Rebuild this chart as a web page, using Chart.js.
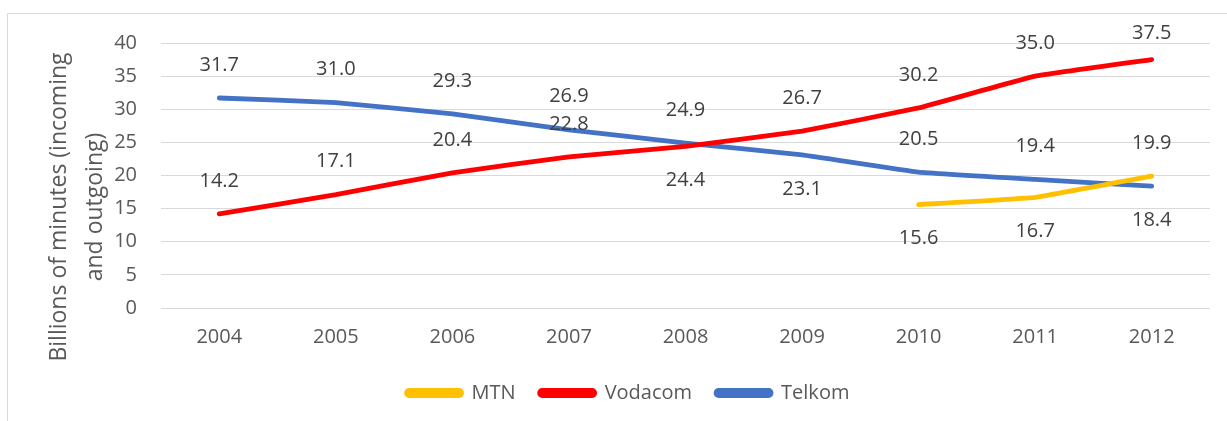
<!DOCTYPE html>
<html><head><meta charset="utf-8">
<script src="https://cdn.jsdelivr.net/npm/chart.js@4"></script>
<style>html,body{margin:0;padding:0;background:#fff;overflow:hidden}
#wrap{position:relative;width:1227px;height:421px}
canvas{display:block}
</style></head><body><div id="wrap"><canvas id="c" width="1227" height="421"></canvas></div>
<script>
// ---- data ----
const years = ['2004','2005','2006','2007','2008','2009','2010','2011','2012'];
const seriesNames = ['MTN','Vodacom','Telkom'];
const mtn     = [null, null, null, null, null, null, 15.6, 16.7, 19.9];
const vodacom = [14.2, 17.1, 20.4, 22.8, 24.4, 26.7, 30.2, 35.0, 37.5];
const telkom  = [31.7, 31.0, 29.3, 26.9, 24.9, 23.1, 20.5, 19.4, 18.4];
const yMin = 0, yMax = 40, yStep = 5;
const yTitleLines = ['Billions of minutes (incoming', 'and outgoing)'];
// which side of the point each data label sits on
const mtnLabelSide     = ['', '', '', '', '', '', 'below', 'below', 'above'];
const vodacomLabelSide = ['above','above','above','above','below','above','above','above','above'];
const telkomLabelSide  = ['above','above','above','above','above','below','above','above','below'];

// ---- style ----
const FONT = '"Open Sans", "Noto Sans", sans-serif';
const FS = 20;
const TITLE_FS = 23;
const colors = ['#FFC000', '#FF0000', '#4472C4'];

const frame = {
  id: 'frame',
  beforeDraw(chart) {
    const c = chart.ctx;
    c.save();
    c.fillStyle = '#fff';
    c.fillRect(0, 0, chart.width, chart.height);
    c.strokeStyle = '#d9d9d9';
    c.lineWidth = 1;
    c.beginPath();
    c.moveTo(7.5, chart.height);
    c.lineTo(7.5, 13.5);
    c.lineTo(chart.width, 13.5);
    c.stroke();
    c.restore();
  }
};

const yTitle = {
  id: 'yTitle',
  afterDraw(chart) {
    const c = chart.ctx;
    const a = chart.chartArea;
    c.save();
    c.fillStyle = '#595959';
    c.font = TITLE_FS + 'px ' + FONT;
    c.textAlign = 'center';
    c.textBaseline = 'middle';
    const cy = a.bottom - 101;
    const xs = [59, 95];
    yTitleLines.forEach((t, i) => {
      c.save();
      c.translate(xs[i], cy);
      c.rotate(-Math.PI / 2);
      c.fillText(t, 0, 0);
      c.restore();
    });
    c.restore();
  }
};

const sides = [mtnLabelSide, vodacomLabelSide, telkomLabelSide];
const dataLabels = {
  id: 'dataLabels',
  afterDatasetsDraw(chart) {
    const c = chart.ctx;
    const a = chart.chartArea;
    c.save();
    c.fillStyle = '#404040';
    c.font = FS + 'px ' + FONT;
    c.textAlign = 'center';
    c.textBaseline = 'middle';
    chart.data.datasets.forEach((ds, di) => {
      const meta = chart.getDatasetMeta(di);
      meta.data.forEach((pt, i) => {
        const v = ds.data[i];
        if (v === null || v === undefined) return;
        const side = sides[di][i];
        let y = side === 'below' ? pt.y + 34 : pt.y - 33;
        y = Math.max(y, a.top - 10);
        c.fillText(v.toFixed(1), pt.x, y);
      });
    });
    c.restore();
  }
};

const seriesData = [mtn, vodacom, telkom];
new Chart(document.getElementById('c'), {
  type: 'line',
  data: {
    labels: years,
    datasets: seriesNames.map((name, i) => ({
      label: name,
      data: seriesData[i],
      borderColor: colors[i],
      backgroundColor: colors[i],
      borderWidth: 4.8,
      borderCapStyle: 'round',
      borderJoinStyle: 'round',
      pointRadius: 0,
      pointHoverRadius: 0,
      tension: 0.08,
      spanGaps: false,
      fill: false
    }))
  },
  options: {
    responsive: false,
    devicePixelRatio: 1,
    animation: false,
    events: [],
    layout: { padding: { left: 46, right: 17, top: 43, bottom: 8 } },
    plugins: {
      tooltip: { enabled: false },
      legend: {
        position: 'bottom',
        labels: {
          boxWidth: 55,
          boxHeight: 5,
          useBorderRadius: true,
          borderRadius: 2.5,
          padding: 24,
          color: '#595959',
          font: { family: FONT, size: FS }
        }
      }
    },
    scales: {
      x: {
        offset: true,
        grid: { display: false, drawTicks: false },
        border: { display: false },
        ticks: { color: '#595959', font: { family: FONT, size: FS }, padding: 17, maxRotation: 0 },
        afterFit(scale) {
          const lh = scale.chart.legend ? scale.chart.legend.height : 0;
          scale.height = 421 - 308 - 8 - lh;
        }
      },
      y: {
        min: yMin, max: yMax,
        grid: { color: '#d9d9d9', lineWidth: 1, drawTicks: false },
        border: { display: false },
        ticks: { stepSize: yStep, color: '#595959', font: { family: FONT, size: FS }, padding: 24 },
        afterFit(scale) { scale.width = 115; }
      }
    }
  },
  plugins: [frame, yTitle, dataLabels]
});
</script></body></html>
